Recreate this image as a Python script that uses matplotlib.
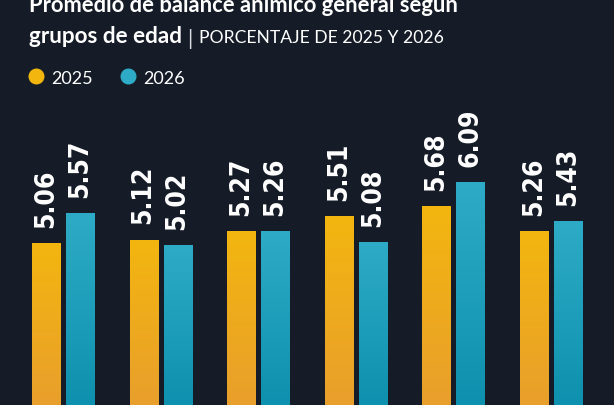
import matplotlib
matplotlib.use("Agg")
import matplotlib.pyplot as plt
import numpy as np
from matplotlib.colors import LinearSegmentedColormap
from matplotlib.lines import Line2D
from matplotlib import font_manager

# valores por grupo de edad (las etiquetas de grupo quedan fuera del recorte)
valores_2025 = [5.06, 5.12, 5.27, 5.51, 5.68, 5.26]
valores_2026 = [5.57, 5.02, 5.26, 5.08, 6.09, 5.43]
anios = ["2025", "2026"]

fondo = "#151c27"
amarillo = ("#f3b60f", "#e99f2c")
turquesa = ("#2eabc6", "#0e91ae")

fig = plt.figure(figsize=(6.14, 4.06), dpi=100, facecolor=fondo)
ax = fig.add_axes([0, 0, 1, 1])
ax.set_facecolor(fondo)

x = np.arange(len(valores_2025))
ancho = 0.287
desp = 0.174
ymin, ymax = 2.34, 9.16

def barras_degradado(xs, vals, colores):
    cmap = LinearSegmentedColormap.from_list("g", [colores[1], colores[0]])
    grad = np.linspace(0, 1, 256).reshape(-1, 1)
    bars = ax.bar(xs, vals, width=ancho, color=colores[0], zorder=2)
    for b, v in zip(bars, vals):
        x0 = b.get_x()
        im = ax.imshow(grad, cmap=cmap, origin="lower", aspect="auto",
                       extent=[x0, x0 + b.get_width(), ymin, v], zorder=3)
        im.set_clip_path(b)
    return bars

barras_degradado(x - desp, valores_2025, amarillo)
barras_degradado(x + desp, valores_2026, turquesa)

# fuente condensada si existe
condensada = None
for f in font_manager.fontManager.ttflist:
    if "Condensed" in f.fname and "DejaVuSans" in f.fname and "Bold" in f.fname:
        condensada = f.fname
        break
if condensada:
    prop = font_manager.FontProperties(fname=condensada, size=19)
else:
    prop = font_manager.FontProperties(family="DejaVu Sans", weight="bold", size=17)

for xs, vals in ((x - desp, valores_2025), (x + desp, valores_2026)):
    for xi, v in zip(xs, vals):
        ax.text(xi, v + 0.27, f"{v:.2f}", rotation=90, ha="center", va="bottom",
                color="white", fontproperties=prop, zorder=4)

ax.set_xlim(-0.645, 5.645)
ax.set_ylim(ymin, ymax)
ax.axis("off")

# titulo (cortado arriba como en el original)
fig.text(29 / 614, 1 - 12 / 406, "Promedio de balance anímico general según",
         color="white", fontsize=15.8, fontweight="bold", family="Lato", va="baseline")
fig.text(29 / 614, 1 - 43 / 406, "grupos de edad", color="white", fontsize=16.2,
         fontweight="bold", family="Lato", va="baseline")
fig.text(187 / 614, 1 - 45 / 406, "|", color="#d8dbe0", fontsize=15,
         family="Lato", va="baseline")
fig.text(199 / 614, 1 - 43 / 406, "PORCENTAJE DE 2025 Y 2026", color="white",
         fontsize=12.6, family="Lato", va="baseline")

# leyenda
for cx, tx, col, lab in ((36, 51, amarillo[0], anios[0]), (128, 143, turquesa[0], anios[1])):
    fig.add_artist(Line2D([cx / 614], [1 - 77 / 406], marker="o", markersize=10.5,
                          color=col, linestyle="none", transform=fig.transFigure))
    fig.text(tx / 614, 1 - 84 / 406, lab, color="white", fontsize=13,
             family="Lato", va="baseline")

fig.savefig("out.png", dpi=100, facecolor=fondo)
